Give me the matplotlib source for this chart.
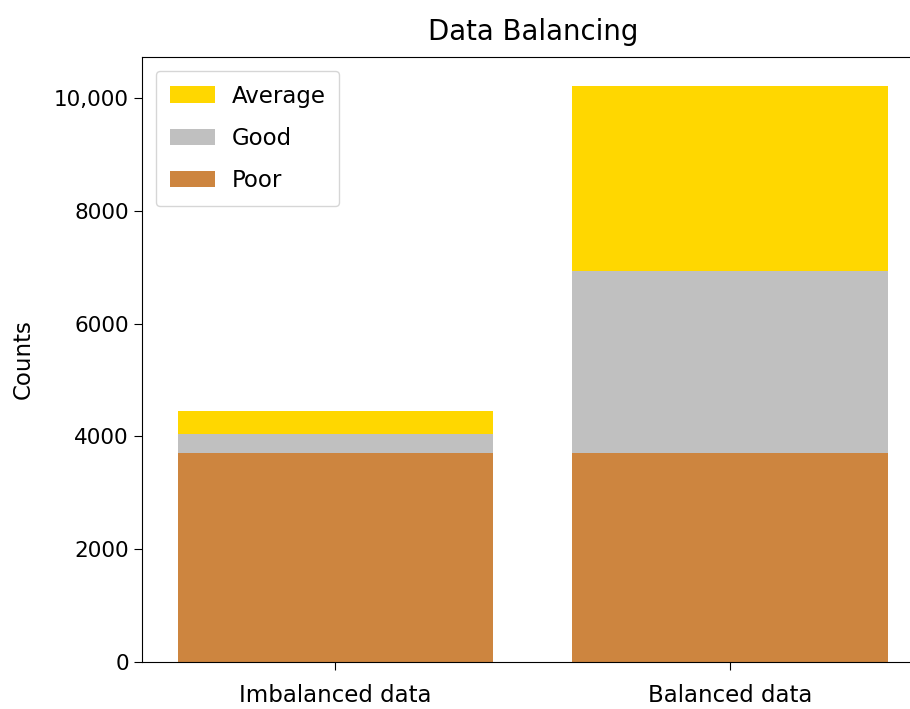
import matplotlib
matplotlib.use('Agg')
import matplotlib.pyplot as plt

# Dati
categorie = ['Imbalanced data', 'Balanced data']
poor = [3710, 3710]
good = [340, 3215]
average = [405, 3290]

yticks = [0, 2000, 4000, 6000, 8000, 10000]
ytick_labels = ['0', '2000', '4000', '6000', '8000', '10,000']

plt.rcParams['font.family'] = ['DejaVu Sans']
plt.rcParams['font.size'] = 16.5

fig = plt.figure(figsize=(9.1, 7.09), dpi=100)
ax = fig.add_axes([142 / 910, 47 / 709, 781.5 / 910, 605 / 709])

bottom_good = [p for p in poor]
bottom_avg = [p + g for p, g in zip(poor, good)]

b_poor = ax.bar(categorie, poor, color='peru', width=0.8)
b_good = ax.bar(categorie, good, bottom=bottom_good, color='silver', width=0.8)
b_avg = ax.bar(categorie, average, bottom=bottom_avg, color='gold', width=0.8)

ax.set_yticks(yticks)
ax.set_yticklabels(ytick_labels, fontsize=15.5)
ax.set_ylabel('Counts', labelpad=14)
ax.set_title('Data Balancing', pad=12)
ax.tick_params(length=6)
ax.tick_params(axis='x', pad=10)
ax.spines['right'].set_visible(False)

ax.legend([b_avg, b_good, b_poor], ['Average', 'Good', 'Poor'], loc='upper left',
          handlelength=2.0, borderpad=0.6, labelspacing=0.85, borderaxespad=0.6,
          handletextpad=0.7)

fig.savefig('out.png', dpi=100)
